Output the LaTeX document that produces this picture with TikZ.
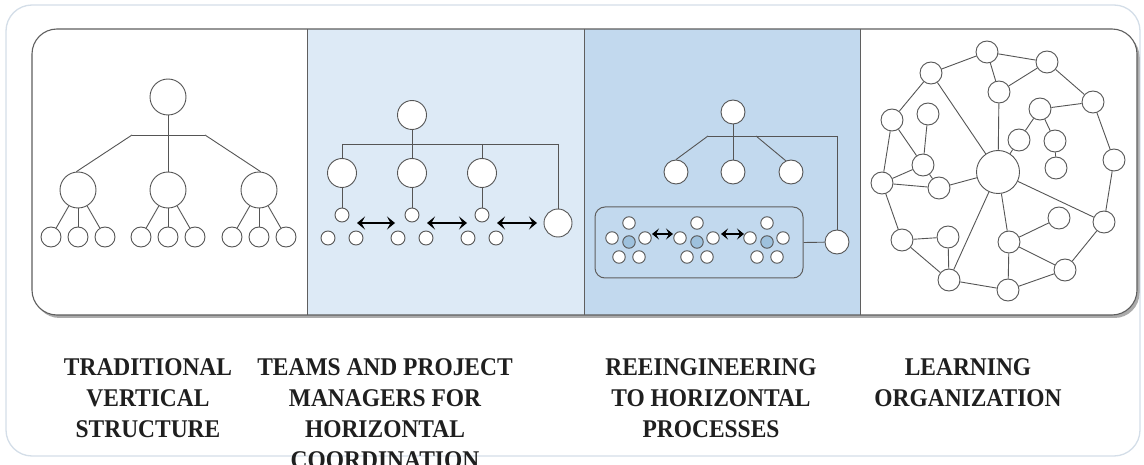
\documentclass[tikz,border=0pt]{standalone}
\usepackage{fontspec}
\newfontfamily\labfont[FakeStretch=0.92]{Liberation Serif}
\usetikzlibrary{arrows.meta,shadows}
\definecolor{linecol}{RGB}{85,85,85}
\definecolor{framecol}{RGB}{95,95,95}
\definecolor{outercol}{RGB}{212,222,232}
\definecolor{panelA}{RGB}{221,234,246}
\definecolor{panelB}{RGB}{194,217,238}
\definecolor{bluedot}{RGB}{158,193,221}
\begin{document}
\begin{tikzpicture}[x=1pt,y=-1pt,
  nd/.style={circle, draw=linecol, fill=white, inner sep=0pt, line width=0.9pt},
  c36/.style={nd, minimum size=36pt},
  c29/.style={nd, minimum size=29pt},
  c24/.style={nd, minimum size=24pt},
  c22/.style={nd, minimum size=22pt},
  c20/.style={nd, minimum size=20pt},
  c14/.style={nd, minimum size=14pt},
  c12/.style={nd, minimum size=12.5pt},
  cb/.style={c12, fill=bluedot},
  hub/.style={nd, minimum size=43pt},
  ln/.style={draw=linecol, line width=0.9pt},
  dblarrow/.style={draw=black, line width=1.2pt,
    arrows={Stealth[length=8pt,width=13pt,inset=3.5pt]-Stealth[length=8pt,width=13pt,inset=3.5pt]}},
  smallarrow/.style={draw=black, line width=1.2pt,
    arrows={Stealth[length=7pt,width=11pt,inset=3pt]-Stealth[length=7pt,width=11pt,inset=3pt]}},
  lab/.style={align=center, inner sep=0pt, anchor=base, text=black!88,
    font=\labfont\bfseries\fontsize{25.5}{31}\selectfont}
]
\useasboundingbox (0,0) rectangle (1144,465);
% outer frame
\draw[outercol, line width=1.3pt, fill=white, rounded corners=26pt] (6,5) rectangle (1140,456);
% panel frame with shadow
\fill[white, rounded corners=25pt, drop shadow={shadow xshift=2.5pt, shadow yshift=-3pt, fill=black!55, opacity=0.6}] (32,29) rectangle (1137,315);
\fill[panelA] (307,29) rectangle (584,315);
\fill[panelB] (584,29) rectangle (860,315);
\draw[framecol, line width=1pt] (307,29) -- (307,315) (584,29) -- (584,315) (860,29) -- (860,315);
\draw[framecol, line width=1.1pt, rounded corners=25pt] (32,29) rectangle (1137,315);

% ---------- panel 1 ----------
\node[c36] (t1) at (168,97) {};
\node[c36] (m11) at (78,190) {};
\node[c36] (m12) at (168,190) {};
\node[c36] (m13) at (259,190) {};
\coordinate (b1L) at (132,135);
\coordinate (b1R) at (205,135);
\foreach \i/\x in {1/51,2/78,3/105} \node[c20] (l1\i) at (\x,237) {};
\foreach \i/\x in {1/141,2/168,3/195} \node[c20] (l2\i) at (\x,237) {};
\foreach \i/\x in {1/232,2/259,3/286} \node[c20] (l3\i) at (\x,237) {};
\draw[ln] (t1) -- (m12);
\draw[ln] (b1L) -- (b1R);
\draw[ln] (b1L) -- (m11.95);
\draw[ln] (b1R) -- (m13.85);
\foreach \m in {1,2,3} {
  \draw[ln] (m1\m) -- (l\m1);
  \draw[ln] (m1\m) -- (l\m2);
  \draw[ln] (m1\m) -- (l\m3);
}

% ---------- panel 2 ----------
\node[c29] (t2) at (412,115) {};
\node[c29] (m21) at (342,173) {};
\node[c29] (m22) at (412,173) {};
\node[c29] (m23) at (482,173) {};
\node[nd, minimum size=28pt] (r2) at (558,223) {};
\coordinate (b2L) at (342,144);
\coordinate (b2R) at (558,144);
\node[c14] (s21) at (342,215) {};
\node[c14] (s22) at (412,215) {};
\node[c14] (s23) at (482,215) {};
\node[c14] (u21) at (328,238) {};
\node[c14] (u22) at (356,238) {};
\node[c14] (u23) at (398,238) {};
\node[c14] (u24) at (426,238) {};
\node[c14] (u25) at (468,238) {};
\node[c14] (u26) at (496,238) {};
\draw[ln] (t2) -- (m22);
\draw[ln] (b2L) -- (b2R);
\draw[ln] (b2L) -- (m21);
\draw[ln] (482,144) -- (m23);
\draw[ln] (b2R) -- (r2);
\draw[ln] (m21) -- (s21);
\draw[ln] (m22) -- (s22);
\draw[ln] (m23) -- (s23);
\coordinate (a21) at (357,223); \coordinate (a22) at (395,223);
\coordinate (a23) at (427,223); \coordinate (a24) at (467,223);
\coordinate (a25) at (497,223); \coordinate (a26) at (537,223);
\draw[dblarrow] (a21) -- (a22);
\draw[dblarrow] (a23) -- (a24);
\draw[dblarrow] (a25) -- (a26);

% ---------- panel 3 ----------
\node[c24] (t3) at (733,112) {};
\node[c24] (m31) at (676,172) {};
\node[c24] (m32) at (733,172) {};
\node[c24] (m33) at (791,172) {};
\node[c24] (r3) at (837,242) {};
\coordinate (b3L) at (708,136);
\coordinate (b3M) at (756,136);
\coordinate (b3R) at (837,136);
\draw[ln] (t3) -- (m32);
\draw[ln] (b3L) -- (b3R);
\draw[ln] (b3L) -- (m31.north);
\draw[ln] (b3M) -- (m33.115);
\draw[ln] (b3R) -- (r3);
\node[draw=framecol, line width=1pt, fill=panelB, rounded corners=10pt, minimum width=208pt, minimum height=71pt, inner sep=0pt] (box) at (699,242.5) {};
\draw[ln] (box.east) -- (r3);
\foreach \k/\cx in {1/629,2/697,3/767} {
  \node[cb] (k\k c) at (\cx,242) {};
  \node[c12] (k\k t) at (\cx,223) {};
  \node[c12] (k\k l) at (\cx-17,238) {};
  \node[c12] (k\k r) at (\cx+16,238) {};
  \node[c12] (k\k a) at (\cx-10,257) {};
  \node[c12] (k\k b) at (\cx+10,257) {};
}
\coordinate (a31) at (652,234); \coordinate (a32) at (673,234);
\coordinate (a33) at (721,234); \coordinate (a34) at (744,234);
\draw[smallarrow] (a31) -- (a32);
\draw[smallarrow] (a33) -- (a34);

% ---------- panel 4 ----------
\node[hub] (Z) at (998,172) {};
\foreach \n/\x/\y in {A/987/52, B/1047/62, C/931/73, D/999/92, E/1093/102, F/1040/109,
  G/928/114, H/892/120, I/1019/140, J/1055/141, K/1114/160, L/923/165, M/1056/168,
  N/882/183, O/939/188, P/1059/218, Q/1104/222, R/902/240, S/948/237, T/1009/242,
  U/1065/270, V/949/280, W/1008/290}
  \node[c22] (\n) at (\x,\y) {};
\foreach \a/\b in {A/B, A/C, A/D, B/D, B/E, C/H, C/Z, D/Z, E/F, E/K, F/I, F/J, J/M,
  G/L, H/L, H/N, N/L, L/O, N/O, O/Z, N/R, R/S, R/V, S/V, V/Z, V/W, W/T, T/Z, T/P,
  T/U, W/U, U/Q, Q/K, Q/Z, I/Z}
  \draw[ln] (\a) -- (\b);

% ---------- labels (anchor base = baseline of last line) ----------
\node[lab] (lab1) at (148,437) {TRADITIONAL\\VERTICAL\\STRUCTURE};
\node[lab] (lab2) at (385,468) {TEAMS AND PROJECT\\MANAGERS FOR\\HORIZONTAL\\COORDINATION};
\node[lab] (lab3) at (711,437) {REEINGINEERING\\TO HORIZONTAL\\PROCESSES};
\node[lab] (lab4) at (968,406) {LEARNING\\ORGANIZATION};
\end{tikzpicture}
\end{document}
